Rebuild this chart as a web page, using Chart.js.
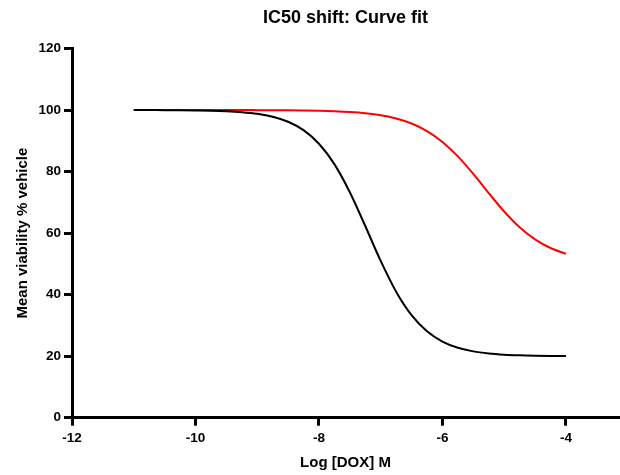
<!DOCTYPE html>
<html>
<head>
<meta charset="utf-8">
<script src="https://cdn.jsdelivr.net/npm/chart.js@4"></script>
<style>
    html, body { margin: 0; padding: 0; background: #ffffff; }
    #wrap { width: 620px; height: 475px; }
</style>
</head>
<body>
<div id="wrap"><canvas id="ic50Chart" width="620" height="475"></canvas></div>
<script>
// Log [DOX] M positions where the fitted curves were read
const logDox = [-11, -10.75, -10.5, -10.25, -10, -9.75, -9.5, -9.25, -9, -8.75,
    -8.5, -8.25, -8, -7.75, -7.5, -7.25, -7, -6.75, -6.5, -6.25,
    -6, -5.75, -5.5, -5.25, -5, -4.75, -4.5, -4.25, -4];

// Black curve (mean viability % vehicle)
const blackCurve = [100.0, 99.98, 99.96, 99.93, 99.87, 99.78, 99.6, 99.29, 98.76, 97.81,
    96.18, 93.45, 89.05, 82.42, 73.29, 62.3, 50.95, 40.95, 33.31, 28.07,
    24.75, 22.74, 21.56, 20.89, 20.5, 20.28, 20.16, 20.09, 20.05];

// Red curve (mean viability % vehicle)
const redCurve = [100.0, 100.0, 100.0, 99.99, 99.99, 99.99, 99.98, 99.98, 99.97, 99.95,
    99.91, 99.85, 99.76, 99.61, 99.36, 98.95, 98.3, 97.25, 95.62, 93.16,
    89.64, 84.93, 79.22, 73.0, 67.02, 61.91, 57.97, 55.15, 53.26];

// Axis ticks
const xTicks = [-12, -10, -8, -6, -4];
const yTicks = [0, 20, 40, 60, 80, 100, 120];

const toPoints = (values) => values.map((v, i) => ({ x: logDox[i], y: v }));

const fontFamily = 'Liberation Sans, Arial, sans-serif';
const tickFont = { family: fontFamily, size: 13.5, weight: 'bold' };
const axisTitleFont = { family: fontFamily, size: 15, weight: 'bold' };

const ctx = document.getElementById('ic50Chart').getContext('2d');

new Chart(ctx, {
    type: 'line',
    data: {
        datasets: [{
            data: toPoints(blackCurve),
            borderColor: '#000000',
            borderWidth: 2,
            pointRadius: 0,
            cubicInterpolationMode: 'monotone',
            fill: false
        }, {
            data: toPoints(redCurve),
            borderColor: '#ff0000',
            borderWidth: 2,
            pointRadius: 0,
            cubicInterpolationMode: 'monotone',
            fill: false
        }]
    },
    options: {
        responsive: false,
        animation: false,
        layout: {
            padding: { left: 0, right: 1, top: 0, bottom: 0 }
        },
        plugins: {
            legend: { display: false },
            tooltip: { enabled: false },
            title: {
                display: true,
                fullSize: false,
                text: 'IC50 shift: Curve fit',
                color: '#000000',
                font: { family: fontFamily, size: 18, weight: 'bold' },
                padding: { top: 7.7, bottom: 19.2 }
            }
        },
        scales: {
            x: {
                type: 'linear',
                min: -12,
                max: -3.14,
                afterBuildTicks: (scale) => {
                    scale.ticks = xTicks.map(v => ({ value: v }));
                },
                afterFit: (scale) => {
                    scale.height = 57.3;
                },
                border: { display: true, color: '#000000', width: 3 },
                grid: {
                    drawOnChartArea: false,
                    drawTicks: true,
                    tickLength: 8,
                    tickWidth: 3,
                    tickColor: '#000000'
                },
                ticks: {
                    color: '#000000',
                    font: tickFont,
                    padding: 4.5,
                    maxRotation: 0
                },
                title: {
                    display: true,
                    text: 'Log [DOX] M',
                    color: '#000000',
                    font: axisTitleFont,
                    padding: { top: 0, bottom: 3.5 }
                }
            },
            y: {
                type: 'linear',
                min: 0,
                max: 120,
                afterBuildTicks: (scale) => {
                    scale.ticks = yTicks.map(v => ({ value: v }));
                },
                afterFit: (scale) => {
                    scale.width = 72;
                },
                border: { display: true, color: '#000000', width: 3 },
                grid: {
                    drawOnChartArea: false,
                    drawTicks: true,
                    tickLength: 8,
                    tickWidth: 3,
                    tickColor: '#000000'
                },
                ticks: {
                    color: '#000000',
                    font: tickFont,
                    padding: 3
                },
                title: {
                    display: true,
                    text: 'Mean viability % vehicle',
                    color: '#000000',
                    font: axisTitleFont,
                    padding: { top: 14, bottom: 0 }
                }
            }
        }
    }
});
</script>
</body>
</html>
